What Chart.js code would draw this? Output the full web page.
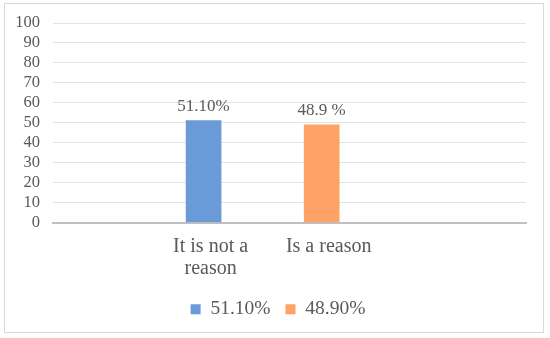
<!DOCTYPE html>
<html>
<head>
<meta charset="utf-8">
<script src="https://cdn.jsdelivr.net/npm/chart.js@4"></script>
<style>
    html, body { margin: 0; padding: 0; background: #fff; }
    body { width: 550px; height: 338px; position: relative; overflow: hidden; }
    #frame {
        position: absolute; left: 4px; top: 3px;
        width: 540px; height: 330px;
        box-sizing: border-box; border: 1px solid #d9d9d9;
    }
    #wrap { position: absolute; left: 5px; top: 4px; width: 546px; height: 328px; }
</style>
</head>
<body>
<div id="frame"></div>
<div id="wrap"><canvas id="chart"></canvas></div>
<script>
// Chart data
const categories = ['It is not a reason', 'Is a reason'];
const categoryLines = [['It is not a', 'reason'], ['Is a reason']];
const seriesNames = ['51.10%', '48.90%'];
const values = [51.1, 48.9];
const valueLabels = ['51.10%', '48.9 %'];
const yMin = 0;
const yMax = 100;
const yStep = 10;

const colors = ['#6A9BD8', '#FFA265'];
const textColor = '#595959';
const fontFamily = '"Liberation Serif", "Times New Roman", serif';

// draws the value above each bar
const valueLabelPlugin = {
    id: 'valueLabels',
    afterDatasetsDraw(chart) {
        const ctx = chart.ctx;
        ctx.save();
        ctx.font = '17px ' + fontFamily;
        ctx.fillStyle = textColor;
        ctx.textAlign = 'center';
        ctx.textBaseline = 'alphabetic';
        chart.data.datasets.forEach((ds, i) => {
            chart.getDatasetMeta(i).data.forEach(bar => {
                ctx.fillText(valueLabels[i], bar.x, bar.y - 10);
            });
        });
        ctx.restore();
    }
};

// y labels are wider than the axis box, let them hang into the left padding
const yLabelRoom = {
    id: 'yLabelRoom',
    afterLayout(chart) {
        chart.scales.y.left = 0;
    }
};

const datasets = seriesNames.map((name, i) => ({
    label: name,
    data: [{ x: i, y: values[i] }],
    backgroundColor: colors[i],
    borderWidth: 0,
    barThickness: 35,
    grouped: false
}));

new Chart(document.getElementById('chart'), {
    type: 'bar',
    data: { datasets: datasets },
    plugins: [valueLabelPlugin, yLabelRoom],
    options: {
        responsive: true,
        maintainAspectRatio: false,
        animation: false,
        layout: { padding: { left: 25, right: 25, top: 19, bottom: 3 } },
        plugins: {
            tooltip: { enabled: false },
            legend: {
                position: 'bottom',
                labels: {
                    boxWidth: 10,
                    boxHeight: 10,
                    padding: 15,
                    color: textColor,
                    font: { family: fontFamily, size: 19.5 }
                }
            }
        },
        scales: {
            x: {
                type: 'linear',
                offset: false,
                min: -1.275,
                max: 2.73,
                afterBuildTicks: axis => {
                    axis.ticks = categories.map((c, i) => ({ value: i }));
                },
                afterFit: axis => { axis.height -= 8; },
                grid: { display: false, drawTicks: false, offset: false },
                border: { display: true, color: '#bfbfbf', width: 2 },
                ticks: {
                    autoSkip: false,
                    maxRotation: 0,
                    padding: 13,
                    labelOffset: 7,
                    color: textColor,
                    font: { family: fontFamily, size: 20, lineHeight: 1.1 },
                    callback: value => categoryLines[value]
                }
            },
            y: {
                min: yMin,
                max: yMax,
                afterFit: axis => { axis.width = 23; },
                grid: { color: '#e3e3e3', drawTicks: true, tickLength: 13, tickColor: 'rgba(0,0,0,0)' },
                border: { display: false },
                ticks: {
                    stepSize: yStep,
                    autoSkip: false,
                    padding: 0,
                    color: textColor,
                    font: { family: fontFamily, size: 16.5 }
                }
            }
        }
    }
});
</script>
</body>
</html>
